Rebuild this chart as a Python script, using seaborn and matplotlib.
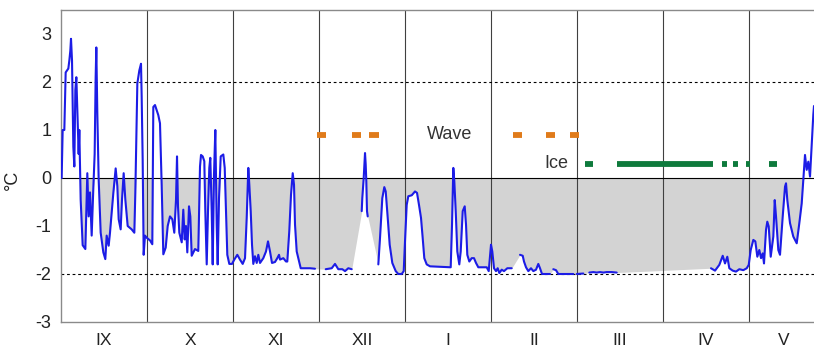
"""Sea surface temperature, Sept to May, with wave and ice periods marked."""

import matplotlib
matplotlib.use("Agg")
import matplotlib.pyplot as plt
import numpy as np
import pandas as pd
import seaborn as sns

nan = np.nan

# day of season (30 days per month, 0 = start of Sept) and temperature, nan = data gap
day = [
    0.23, 0.58, 1.16, 1.63, 2.56, 2.91, 3.25, 3.49, 3.84, 4.30, 4.65, 5.00, 5.35, 5.70,
    6.16, 6.39, 6.86, 7.56, 8.49, 9.18, 9.65, 10.12, 10.70, 11.28, 11.74, 12.09, 12.32,
    12.67, 13.14, 13.84, 14.77, 15.46, 15.93, 16.63, 17.09, 18.26, 19.07, 19.65, 20.12,
    20.81, 21.28, 21.86, 22.44, 23.26, 24.65, 25.58, 25.93, 26.28, 26.63, 27.32, 27.91,
    28.14, 28.49, 28.84, 29.30, 30.00, 31.05, 31.85, 32.20, 32.79, 33.94, 34.53, 35.13,
    35.69, 36.52, 37.22, 38.02, 38.83, 39.52, 40.12, 40.47, 40.81, 41.27, 42.11, 42.66,
    43.15, 43.60, 44.06, 44.65, 45.11, 45.59, 46.15, 46.74, 47.89, 48.49, 48.84, 49.43,
    49.99, 50.34, 50.83, 51.28, 51.73, 52.08, 52.57, 52.92, 53.37, 53.83, 54.07, 54.31,
    54.66, 55.12, 55.71, 56.62, 57.11, 57.56, 58.01, 58.71, 59.65, 60.45, 61.50, 62.44,
    63.38, 64.19, 64.78, 65.34, 65.69, 66.18, 66.63, 67.08, 67.67, 68.27, 68.83, 69.42,
    70.57, 71.51, 72.21, 72.91, 73.60, 74.65, 75.45, 76.05, 76.40, 77.55, 78.49, 78.94,
    79.64, 80.23, 80.83, 81.28, 81.63, 82.22, 82.78, 83.62, 86.86, 88.60,
    90.5,
    92.34, 94.43, 95.58, 96.73, 98.13, 99.07, 100.22, 101.41,
    103.0,
    104.90, 105.10, 105.59, 106.05, 106.29, 106.50, 106.74, 106.99,
    108.8,
    110.69, 111.28, 112.08, 112.78, 113.27, 113.97, 114.66, 115.57, 116.76, 117.66,
    118.85, 119.55, 120.00, 120.59, 121.15, 122.34, 123.49, 124.19, 124.88, 125.58,
    126.17, 126.73, 127.57, 128.72, 135.94, 136.40, 136.85, 137.20, 137.69, 138.24,
    138.94, 139.43, 140.13, 140.83, 141.28, 141.73, 142.43, 143.27, 144.07, 144.77,
    145.57, 148.50, 149.20, 150.00, 150.45, 151.05, 151.74, 152.33, 152.89, 153.73,
    154.53, 155.69, 157.22,
    158.7,
    160.12, 161.06, 161.51, 162.21, 163.01, 163.95, 164.76, 165.70, 166.50, 167.09,
    167.79, 168.84, 170.58,
    171.1,
    171.73, 172.67, 173.48, 177.56, 178.71,
    179.3,
    179.90, 182.20,
    183.2,
    184.29, 185.69, 186.87, 188.02, 189.17, 190.36, 192.10, 193.85,
    210.0,
    226.74, 228.14, 229.64, 230.83, 231.63, 232.43, 233.13, 234.31, 235.47, 236.62,
    238.01, 239.20, 239.90, 240.59, 241.50, 242.20, 242.90, 243.59, 244.19, 244.78,
    245.23, 245.93, 246.38, 246.87, 247.57, 248.48, 248.97, 249.42, 250.22, 250.81,
    251.76, 252.56, 252.91, 253.36, 254.30, 255.45, 256.64, 257.55, 258.38, 258.94,
    259.53, 260.12, 260.69, 261.28, 262.43, 262.67,
]
temp = [
    0.0, 1.0, 1.0, 2.2, 2.28, 2.45, 2.65, 2.9, 2.45, 0.65, 0.24, 1.83, 2.1, 1.4,
    0.5, 1.0, -0.45, -1.4, -1.48, 0.1, -0.8, -0.3, -1.2, -0.2, 0.5, 2.1, 2.72,
    1.35, -0.03, -1.14, -1.55, -1.69, -1.2, -1.41, -1.14, -0.31, 0.2, -0.17, -0.86,
    -1.07, -0.45, 0.1, -0.45, -1.0, -1.07, -1.14, -0.3, 0.8, 1.97, 2.24, 2.38,
    1.7, 0.38, -1.6, -1.2, -1.25, -1.3, -1.38, 1.48, 1.52, 1.31, 1.14, -0.17,
    -1.59, -1.45, -1.0, -0.8, -0.86, -1.14, -0.45, 0.45, -0.59, -1.14, -1.34, -0.66,
    -1.28, -1.0, -1.55, -0.59, -0.8, -1.62, -1.55, -1.48, -1.52, 0.24, 0.48, 0.45,
    0.35, -0.69, -1.8, -0.69, 0.21, 0.42, -0.69, -1.8, 0.07, 1.0, 0.07, -0.97,
    -1.8, -0.42, 0.45, 0.49, 0.21, -0.69, -1.6, -1.79, -1.79, -1.7, -1.6, -1.7,
    -1.79, -1.67, -0.83, 0.21, -0.14, -0.69, -1.39, -1.79, -1.63, -1.77, -1.6, -1.77,
    -1.67, -1.53, -1.32, -1.53, -1.77, -1.75, -1.67, -1.6, -1.7, -1.67, -1.74, -1.74,
    -1.1, -0.35, 0.1, -0.14, -0.97, -1.53, -1.67, -1.88, -1.88, -1.89,
    nan,
    -1.9, -1.88, -1.79, -1.9, -1.9, -1.94, -1.88, -1.9,
    nan,
    -0.69, -0.42, 0.0, 0.52, 0.28, -0.07, -0.69, -0.8,
    nan,
    -1.8, -1.25, -0.42, -0.19, -0.28, -0.83, -1.39, -1.77, -1.94, -2.0,
    -2.0, -1.94, -1.32, -0.56, -0.38, -0.36, -0.28, -0.31, -0.56, -0.83,
    -1.25, -1.67, -1.8, -1.84, -1.86, -0.97, 0.21, -0.07, -0.69, -1.53,
    -1.8, -1.53, -0.69, -0.59, -0.97, -1.6, -1.74, -1.67, -1.67, -1.77,
    -1.86, -1.86, -1.94, -1.39, -1.53, -1.88, -1.94, -1.88, -1.98, -1.91,
    -1.94, -1.88, -1.88,
    nan,
    -1.6, -1.62, -1.74, -1.86, -1.94, -1.88, -1.94, -1.91, -1.79, -1.88,
    -2.0, -2.0, -2.0,
    nan,
    -1.9, -1.92, -2.0, -2.0, -2.0,
    nan,
    -2.0, -1.99,
    nan,
    -1.97, -1.96, -1.97, -1.96, -1.97, -1.96, -1.96, -1.97,
    nan,
    -1.88, -1.93, -1.81, -1.62, -1.78, -1.64, -1.88, -1.93, -1.95, -1.90,
    -1.92, -1.88, -1.81, -1.5, -1.29, -1.32, -1.64, -1.5, -1.67, -1.57,
    -1.78, -1.08, -0.91, -1.01, -1.64, -1.22, -0.46, -0.8, -1.5, -1.6,
    -0.8, -0.18, -0.11, -0.46, -0.94, -1.22, -1.36, -0.94, -0.53, -0.04,
    0.48, 0.17, 0.34, 0.03, 1.32, 1.5,
]

months = ["IX", "X", "XI", "XII", "I", "II", "III", "IV", "V"]
month_edges = [30, 60, 90, 120, 150, 180, 210, 240]
month_label_pos = [15, 45, 75, 105, 135, 165, 195, 225, 252]

# wave and ice observation periods (start day, end day)
wave_start = [89.2, 101.4, 107.4, 157.6, 169.2, 177.6]
wave_end = [92.4, 104.7, 110.8, 160.8, 172.3, 180.8]
ice_start = [182.8, 193.9, 230.5, 234.4, 238.8, 247.0]
ice_end = [185.5, 227.3, 232.2, 236.1, 240.3, 249.7]

sns.set_theme(style="white")
plt.rcParams["font.family"] = ["Liberation Sans", "DejaVu Sans"]
plt.rcParams["axes.unicode_minus"] = False

df = pd.DataFrame({"day": day, "temp": temp})
df["segment"] = df["temp"].isna().cumsum()
line_df = df.dropna()

fig = plt.figure(figsize=(8.14, 3.48), dpi=100)
ax = fig.add_axes([61 / 814, 26 / 348, 753 / 814, 312 / 348])

# gray fill below zero, bridged across data gaps
ax.fill_between(line_df["day"], np.minimum(line_df["temp"], 0), 0,
                color="#d3d3d3", linewidth=0, zorder=1)

for x in month_edges:
    ax.axvline(x, color="#404040", linewidth=0.8, zorder=2)
ax.axhline(0, color="black", linewidth=0.8, zorder=2)
for y in (2, -2):
    ax.axhline(y, color="black", linewidth=0.8, linestyle=(0, (2.5, 2.5)), zorder=2)

sns.lineplot(data=line_df, x="day", y="temp", units="segment", estimator=None,
             color="#1c1ce6", linewidth=1.5, ax=ax, zorder=3)

ax.hlines([0.9] * len(wave_start), wave_start, wave_end, color="#e07b1a",
          linewidth=4.2, capstyle="butt", zorder=4)
ax.hlines([0.3] * len(ice_start), ice_start, ice_end, color="#0e7a3c",
          linewidth=4.2, capstyle="butt", zorder=4)
ax.text(135.6, 0.9, "Wave", ha="center", va="center", fontsize=13, color="#333333")
ax.text(176.9, 0.3, "Ice", ha="right", va="center", fontsize=13, color="#333333")

ax.set_xlim(0, 262.67)
ax.set_ylim(-3, 3.5)
ax.set_yticks(range(-3, 4))
ax.set_xticks(month_label_pos)
ax.set_xticklabels(months)
ax.tick_params(axis="y", direction="in", length=2, pad=7, labelsize=13, colors="#222222")
ax.tick_params(axis="x", length=0, pad=8, labelsize=12.5, colors="#222222")
ax.set_xlabel("")
ax.set_ylabel("°C", fontsize=13, color="#222222")
ax.yaxis.set_label_coords(-0.053, 0.455)

for side in ("left", "top", "bottom"):
    ax.spines[side].set_color("#8a8a8a")
    ax.spines[side].set_linewidth(1.0)
ax.spines["right"].set_visible(False)

fig.savefig("out.png", dpi=100)
plt.close(fig)
